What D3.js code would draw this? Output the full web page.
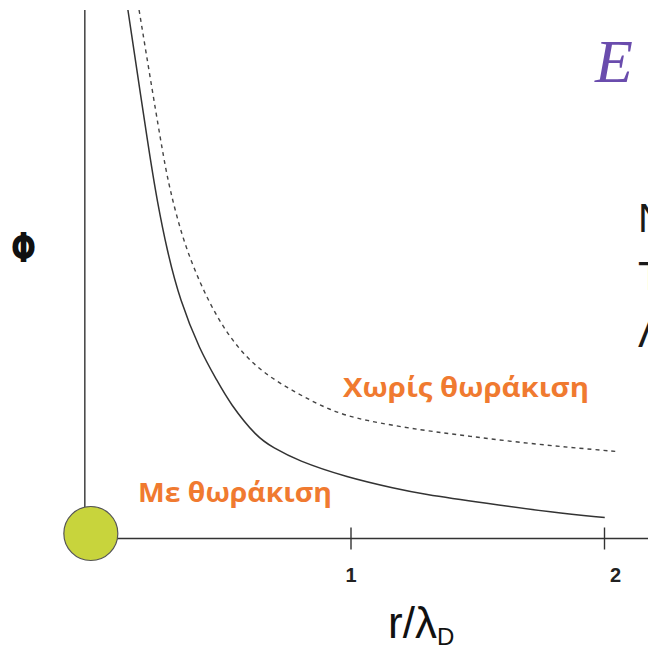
<!DOCTYPE html>
<html>
<head>
<meta charset="utf-8">
<script src="https://cdn.jsdelivr.net/npm/d3@7"></script>
<style>
  body { margin: 0; background: #fff; }
  svg { display: block; }
</style>
</head>
<body>
<div id="chart"></div>
<script>
// screened potential (solid) and unscreened (dashed)
var rSolid   = [0.122, 0.209, 0.237, 0.276, 0.327, 0.406, 0.473, 0.524, 0.631, 0.694, 0.789, 0.986, 1.183, 1.274, 1.538, 1.798, 2.003];
var phiSolid = [3.000, 2.159, 1.920, 1.636, 1.352, 1.068, 0.898, 0.767, 0.574, 0.517, 0.443, 0.347, 0.282, 0.255, 0.199, 0.148, 0.119];

var rDashed   = [0.166, 0.260, 0.288, 0.339, 0.406, 0.473, 0.552, 0.655, 0.789, 0.919, 1.049, 1.285, 1.471, 1.668, 1.865, 2.050];
var phiDashed = [3.000, 2.176, 1.977, 1.693, 1.449, 1.256, 1.085, 0.938, 0.824, 0.727, 0.670, 0.614, 0.580, 0.545, 0.517, 0.494];

var xTicks = [1, 2];
var xTickLabels = ["1", "2"];

var labelScreened = "Με θωράκιση";
var labelUnscreened = "Χωρίς θωράκιση";
var sideLetters = ["Ν", "Τ", "Λ"];

var W = 648, H = 648;
var orange = "#f07a30";

var svg = d3.select("#chart").append("svg")
    .attr("width", W)
    .attr("height", H);

var x = d3.scaleLinear().domain([0, 2]).range([97, 604]);
var y = d3.scaleLinear().domain([0, 3]).range([538.5, 10]);
var xMin = -0.048;

var ax0 = x(xMin);
var ball = { cx: ax0 + 6, cy: y(0) - 5, r: 27 };

// y axis line (vertical)
svg.append("line")
    .attr("x1", ax0).attr("x2", ax0)
    .attr("y1", y(3)).attr("y2", ball.cy - ball.r + 2)
    .attr("stroke", "#333").attr("stroke-width", 1.4);

// x axis
var xAxis = d3.axisBottom(x)
    .tickValues(xTicks)
    .tickSizeInner(11)
    .tickSizeOuter(0)
    .tickFormat(function (d, i) { return xTickLabels[i]; });

var gx = svg.append("g")
    .attr("transform", "translate(0," + y(0) + ")")
    .call(xAxis);
gx.select(".domain").remove();
gx.insert("line", ":first-child")
    .attr("x1", ball.cx + ball.r - 2).attr("x2", W)
    .attr("stroke", "#333").attr("stroke-width", 1.4);
gx.selectAll(".tick line")
    .attr("y1", -11).attr("y2", 11)
    .attr("stroke", "#333").attr("stroke-width", 1.4);
gx.selectAll(".tick text")
    .attr("y", 43).attr("dy", 0)
    .attr("dx", function (d) { return d === 2 ? 11 : 0; })
    .attr("fill", "#222")
    .style("font", "bold 20px 'Liberation Sans', Arial, sans-serif");

// curves
var line = d3.line()
    .x(function (d) { return x(d[0]); })
    .y(function (d) { return y(d[1]); })
    .curve(d3.curveBasis);

svg.append("path")
    .datum(d3.zip(rDashed, phiDashed))
    .attr("d", line)
    .attr("fill", "none")
    .attr("stroke", "#444")
    .attr("stroke-width", 1.4)
    .attr("stroke-dasharray", "4,4");

svg.append("path")
    .datum(d3.zip(rSolid, phiSolid))
    .attr("d", line)
    .attr("fill", "none")
    .attr("stroke", "#333")
    .attr("stroke-width", 1.5);

// charge at the origin
svg.append("circle")
    .attr("cx", ball.cx).attr("cy", ball.cy).attr("r", ball.r)
    .attr("fill", "#c8d43c")
    .attr("stroke", "#555").attr("stroke-width", 1.2);

// orange labels
svg.append("text")
    .attr("x", 343).attr("y", 397)
    .attr("textLength", 246).attr("lengthAdjust", "spacingAndGlyphs")
    .attr("fill", orange)
    .style("font", "bold 26px 'Open Sans', sans-serif")
    .text(labelUnscreened);

svg.append("text")
    .attr("x", 138).attr("y", 502)
    .attr("textLength", 194).attr("lengthAdjust", "spacingAndGlyphs")
    .attr("fill", orange)
    .style("font", "bold 26px 'Open Sans', sans-serif")
    .text(labelScreened);

// axis titles
svg.append("text")
    .attr("x", 11).attr("y", 262)
    .attr("textLength", 25).attr("lengthAdjust", "spacingAndGlyphs")
    .attr("fill", "#111")
    .style("font", "bold 40px 'DejaVu Sans', sans-serif")
    .text("Φ");

var xt = svg.append("text")
    .attr("x", 388).attr("y", 638)
    .attr("fill", "#111")
    .style("font", "44px 'Liberation Sans', Arial, sans-serif");
xt.append("tspan").text("r/λ");
xt.append("tspan")
    .attr("dy", 7)
    .style("font-size", "24px")
    .text("D");

// cut-off slide text on the right
svg.append("text")
    .attr("x", 595).attr("y", 82)
    .attr("fill", "#6a4cad")
    .style("font", "italic 62px 'Liberation Serif', 'Times New Roman', serif")
    .text("E");

svg.selectAll(".side")
    .data(sideLetters)
    .enter().append("text")
    .attr("class", "side")
    .attr("x", 638)
    .attr("y", function (d, i) { return 232 + i * 57.5; })
    .attr("fill", "#1a1a1a")
    .style("font", "40px 'Liberation Sans', Arial, sans-serif")
    .text(function (d) { return d; });
</script>
</body>
</html>
